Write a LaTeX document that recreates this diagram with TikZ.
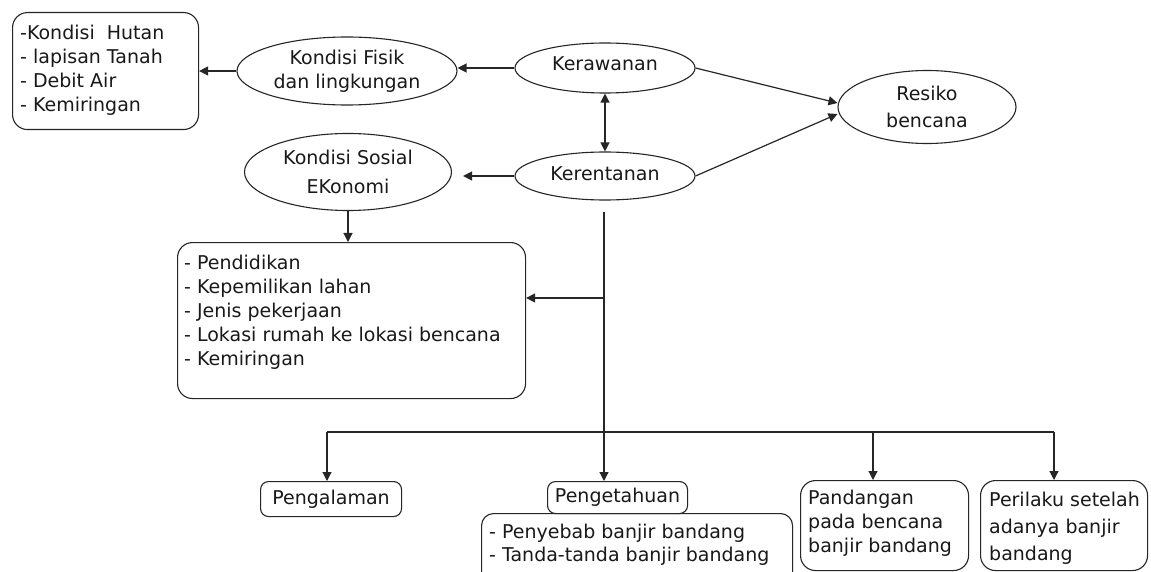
\documentclass[tikz,border=0pt]{standalone}
\usepackage{fontspec}
\setmainfont{DejaVu Sans}
\usetikzlibrary{arrows.meta,shapes.geometric}
\begin{document}
\begin{tikzpicture}[x=1pt,y=-1pt,
  every node/.style={font=\fontsize{19}{24}\selectfont, text=black!90},
  line/.style={line width=1.2pt, draw=black!85},
  arr/.style={line, -{Triangle[length=9pt,width=9pt]}},
  arrboth/.style={line, {Triangle[length=9pt,width=9pt]}-{Triangle[length=9pt,width=9pt]}},
  oval/.style={ellipse, draw=black!85, line width=1.1pt, inner sep=0pt, align=center},
  card/.style={rectangle, draw=black!85, line width=1.1pt, rounded corners=#1, inner sep=0pt, anchor=north west},
  card/.default=15pt,
  txt/.style={anchor=north west, inner sep=0pt, align=left}
]
\useasboundingbox (0,0) rectangle (1151,572);
\fill[white] (0,0) rectangle (1151,572);
\clip (0,0) rectangle (1151,572);

% ellipses
\node[oval, minimum width=220pt, minimum height=68pt] (fis) at (347,71) {Kondisi Fisik\\dan lingkungan};
\node[oval, minimum width=180pt, minimum height=50pt, text depth=8pt] (rawan) at (605,68) {Kerawanan};
\node[oval, minimum width=180pt, minimum height=48pt, text depth=4pt] (rentan) at (605,176) {Kerentanan};
\node[oval, minimum width=178pt, minimum height=73pt] (resiko) at (927,107) {Resiko\\[3pt]bencana};
\node[oval, minimum width=207pt, minimum height=77pt] (sosial) at (348,172) {Kondisi Sosial\\[5pt]EKonomi};

% physical-condition list
\node[card, minimum width=186pt, minimum height=117pt] (fisbox) at (12,12) {};
\node[txt] (fistxt) at (20,25) {-Kondisi~ Hutan\\- lapisan Tanah\\- Debit Air\\- Kemiringan};

% socio-economic list
\node[card, minimum width=348pt, minimum height=156pt] (sosbox) at (177,242) {};
\node[txt] (sostxt) at (184,255) {- Pendidikan\\- Kepemilikan lahan\\- Jenis pekerjaan\\- Lokasi rumah ke lokasi bencana\\- Kemiringan};

% bottom row
\node[card=8pt, minimum width=141pt, minimum height=35pt] (alam) at (260,481) {Pengalaman};
\node[card=8pt, minimum width=140pt, minimum height=32pt] (tahu) at (547,481) {Pengetahuan};
\node[card=12pt, minimum width=311pt, minimum height=75pt] (tahubox) at (481,513) {};
\node[txt] (tahutxt) at (489,524) {- Penyebab banjir bandang\\[-1pt]- Tanda-tanda banjir bandang};
\node[card, minimum width=168pt, minimum height=90pt] (pandang) at (800,480) {};
\node[txt] (pandangtxt) at (808,490) {Pandangan\\pada bencana\\banjir bandang};
\node[card, minimum width=167pt, minimum height=90pt] (laku) at (980,480) {};
\node[txt] (lakutxt) at (989,492) {Perilaku setelah\\[3pt]adanya banjir\\[3pt]bandang};

% connectors
\draw[arr] (fis.west) -- (fisbox.east |- fis.west);
\draw[arr] (rawan.west) -- (fis.east |- rawan.west);
\draw[arrboth] (rawan.south) -- (rentan.north);
\draw[arr] (rawan.east) -- ([yshift=4pt]resiko.west);
\draw[arr] (rentan.east) -- ([yshift=-7pt]resiko.west);
\draw[arr, shorten >=11pt] (rentan.west) -- (sosial.east |- rentan.west);
\draw[arr] (sosial.south) -- (sosial.south |- sosbox.north);

\coordinate (trunk) at (604,212);
\coordinate (fork) at (604,298);
\coordinate (busL) at (327,432);
\coordinate (busM) at (873,432);
\coordinate (busR) at (1054,432);
\draw[arr] (trunk) -- (trunk |- tahu.north);
\draw[arr] (fork) -- (fork -| sosbox.east);
\draw[line] (busL) -- (busR);
\draw[arr] (busL) -- (busL |- alam.north);
\draw[arr] (busM) -- (busM |- pandang.north);
\draw[arr] (busR) -- (busR |- laku.north);
\end{tikzpicture}
\end{document}
